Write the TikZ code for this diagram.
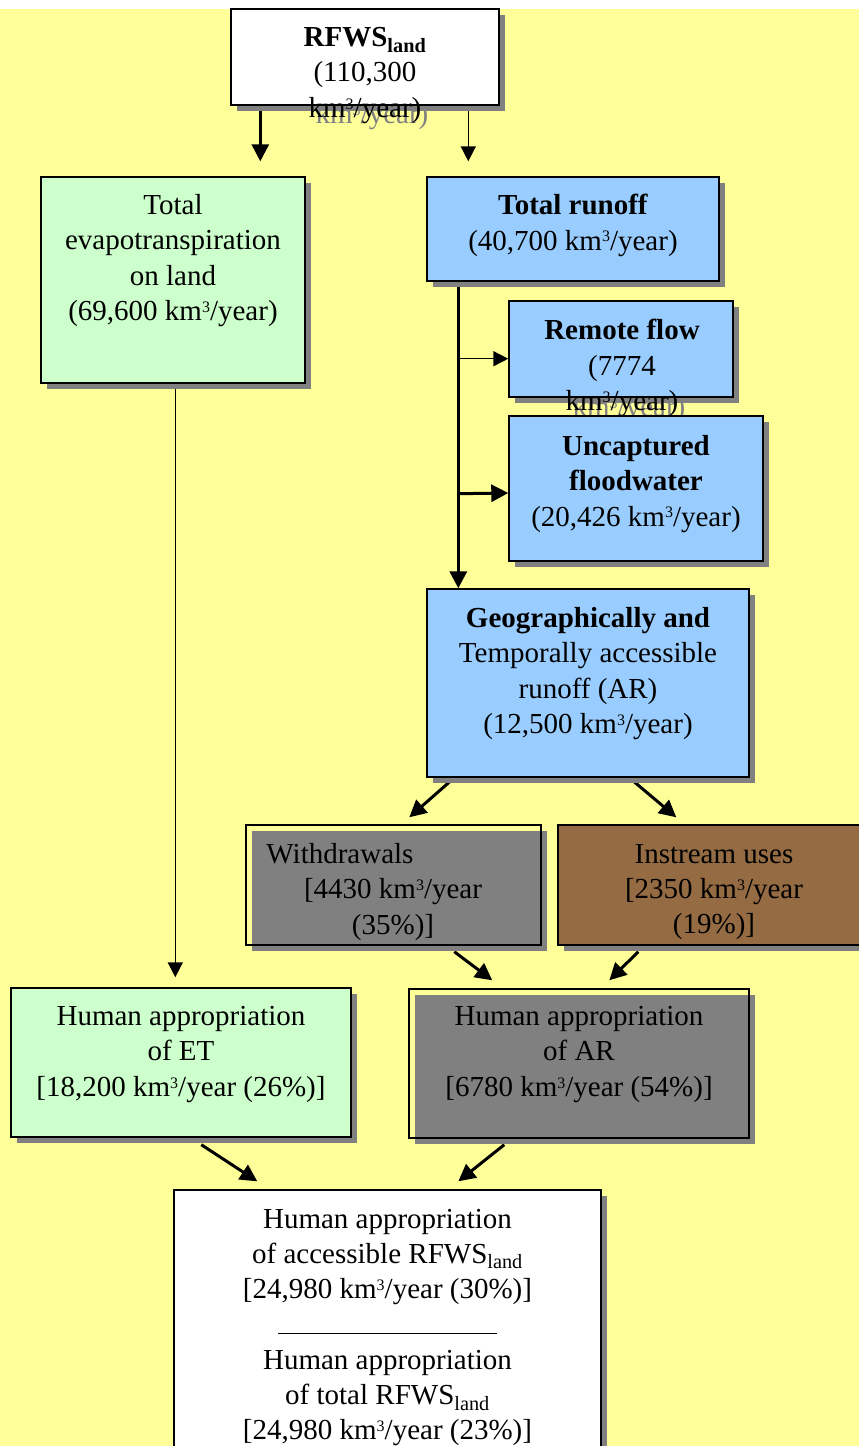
\documentclass[tikz,border=0pt]{standalone}
\usepackage{fontspec}
\setmainfont{Liberation Serif}
\usetikzlibrary{arrows.meta,calc,shadows}
\definecolor{bgyellow}{HTML}{FFFF99}
\definecolor{etgreen}{HTML}{CCFFCC}
\definecolor{runblue}{HTML}{99CCFF}
\definecolor{shadowgray}{HTML}{808080}
\definecolor{instreambrown}{RGB}{148,107,66}
\pgfdeclarelayer{back}
\pgfdeclarelayer{bg}
\pgfsetlayers{back,bg,main}
\newcommand{\kmc}{km\raisebox{0.62ex}{\fontsize{16}{16}\selectfont 3}}
\begin{document}
\begin{tikzpicture}[x=1pt,y=-1pt,
  box/.style={draw=black, line width=1.4pt, inner sep=0pt, rectangle,
    drop shadow={shadow xshift=6pt, shadow yshift=-6pt, fill=shadowgray, opacity=1}},
  txt/.style={inner sep=0pt, align=center, font=\fontsize{29}{35.3}\selectfont},
  ghost/.style={txt, text=shadowgray},
  thickarr/.style={line width=3pt, -{Triangle[length=17pt,width=17pt]}},
  thinarr/.style={line width=1.5pt, -{Triangle[length=15pt,width=15pt]}},
]
\useasboundingbox (0,0) rectangle (859,1446);
\begin{pgfonlayer}{back}
  \fill[white] (0,0) rectangle (859,1446);
  \fill[bgyellow] (0,9) rectangle (859,1446);
\end{pgfonlayer}

% boxes
\node[box, fill=white, minimum width=268pt, minimum height=96pt] (rfws) at (365,57) {};
\node[box, fill=etgreen, minimum width=264pt, minimum height=206pt] (et) at (173,280) {};
\node[box, fill=runblue, minimum width=292pt, minimum height=104pt] (runoff) at (573,229) {};
\node[box, fill=runblue, minimum width=224pt, minimum height=96pt] (remote) at (621,349) {};
\node[box, fill=runblue, minimum width=254pt, minimum height=145pt] (uncap) at (636,488.5) {};
\node[box, fill=runblue, minimum width=322pt, minimum height=188pt] (geo) at (588,683) {};
\node[box, minimum width=295pt, minimum height=120pt] (withdr) at (393.5,885) {};
\node[box, fill=instreambrown, minimum width=312pt, minimum height=120pt] (instream) at (714,885) {};
\node[box, fill=etgreen, minimum width=340pt, minimum height=149pt] (het) at (181,1062.5) {};
\node[box, minimum width=340pt, minimum height=149pt] (har) at (579,1063.5) {};
\node[box, fill=white, minimum width=427pt, minimum height=280pt] (bottom) at (387.5,1330) {};

% connectors and text shadows
\begin{pgfonlayer}{bg}
  \draw[thickarr] ($(rfws.south west)+(30,0)$) -- ($(et.north west)+(220,-15)$);
  \draw[thinarr] ($(rfws.south west)+(238,0)$) -- ($(runoff.north west)+(42,-15)$);
  \draw[line width=3.5pt, -{Triangle[length=17pt,width=17pt]}] ($(runoff.south west)+(32,0)$) -- ($(geo.north west)+(32,0)$);
  \draw[thinarr] ($(runoff.south west)+(32,77)$) -- ($(remote.south west)+(0,-39)$);
  \draw[thickarr] ($(runoff.south west)+(32,212)$) -- ($(uncap.west)+(0,4.5)$);
  \draw[thinarr] ($(et.south west)+(135,0)$) -- ($(het.north west)+(165,-10)$);
  \draw[thickarr] ($(geo.south west)+(28,0)$) -- ($(withdr.north west)+(164,-7)$);
  \draw[thickarr] ($(geo.south west)+(203,0)$) -- ($(instream.north west)+(119,-7)$);
  \draw[thickarr] ($(withdr.south west)+(209,6)$) -- ($(har.north west)+(84,-8)$);
  \draw[thickarr] ($(instream.south west)+(81,6)$) -- ($(har.north west)+(201,-8)$);
  \draw[thickarr] ($(het.south west)+(191,7)$) -- ($(bottom.north west)+(84,-8)$);
  \draw[thickarr] ($(har.south west)+(96,6)$) -- ($(bottom.north west)+(285,-8)$);
  \node[ghost] (rfwsG) at (372,116.6) {\kmc/year)};
  \node[ghost] (remoteG) at (629,409.6) {\kmc/year)};
\end{pgfonlayer}

% texts
\node[txt] (rfwsT) at (365,75.5) {\textbf{RFWS\textsubscript{land}}\\(110,300\\\kmc/year)};
\node[txt] (etT) at (173,260.5) {Total\\evapotranspiration\\on land\\(69,600 \kmc/year)};
\node[txt] (runoffT) at (573,225.5) {\textbf{Total runoff}\\(40,700 \kmc/year)};
\node[txt] (remoteT) at (622,368) {\textbf{Remote flow}\\(7774\\\kmc/year)};
\node[txt] (uncapT) at (636,484) {\textbf{Uncaptured}\\\textbf{floodwater}\\(20,426 \kmc/year)};
\node[txt] (geoT) at (588,673.5) {\textbf{Geographically and}\\Temporally accessible\\runoff (AR)\\(12,500 \kmc/year)};
\node[txt] (withdrT) at (393,892) {Withdrawals\hspace*{106pt}\\{[}4430 \kmc/year\\(35\%)]};
\node[txt] (instreamT) at (714,892) {Instream uses\\{[}2350 \kmc/year\\(19\%)]};
\node[txt] (hetT) at (181,1054.5) {Human appropriation\\of ET\\{[}18,200 \kmc/year (26\%)]};
\node[txt] (harT) at (579,1054.5) {Human appropriation\\of AR\\{[}6780 \kmc/year (54\%)]};
\node[txt] (bottomT) at (387.5,1327.5) {Human appropriation\\of accessible RFWS\textsubscript{land}\\{[}24,980 \kmc/year (30\%)]\\\rule{219pt}{1pt}\\Human appropriation\\of total RFWS\textsubscript{land}\\{[}24,980 \kmc/year (23\%)]};
\end{tikzpicture}
\end{document}
